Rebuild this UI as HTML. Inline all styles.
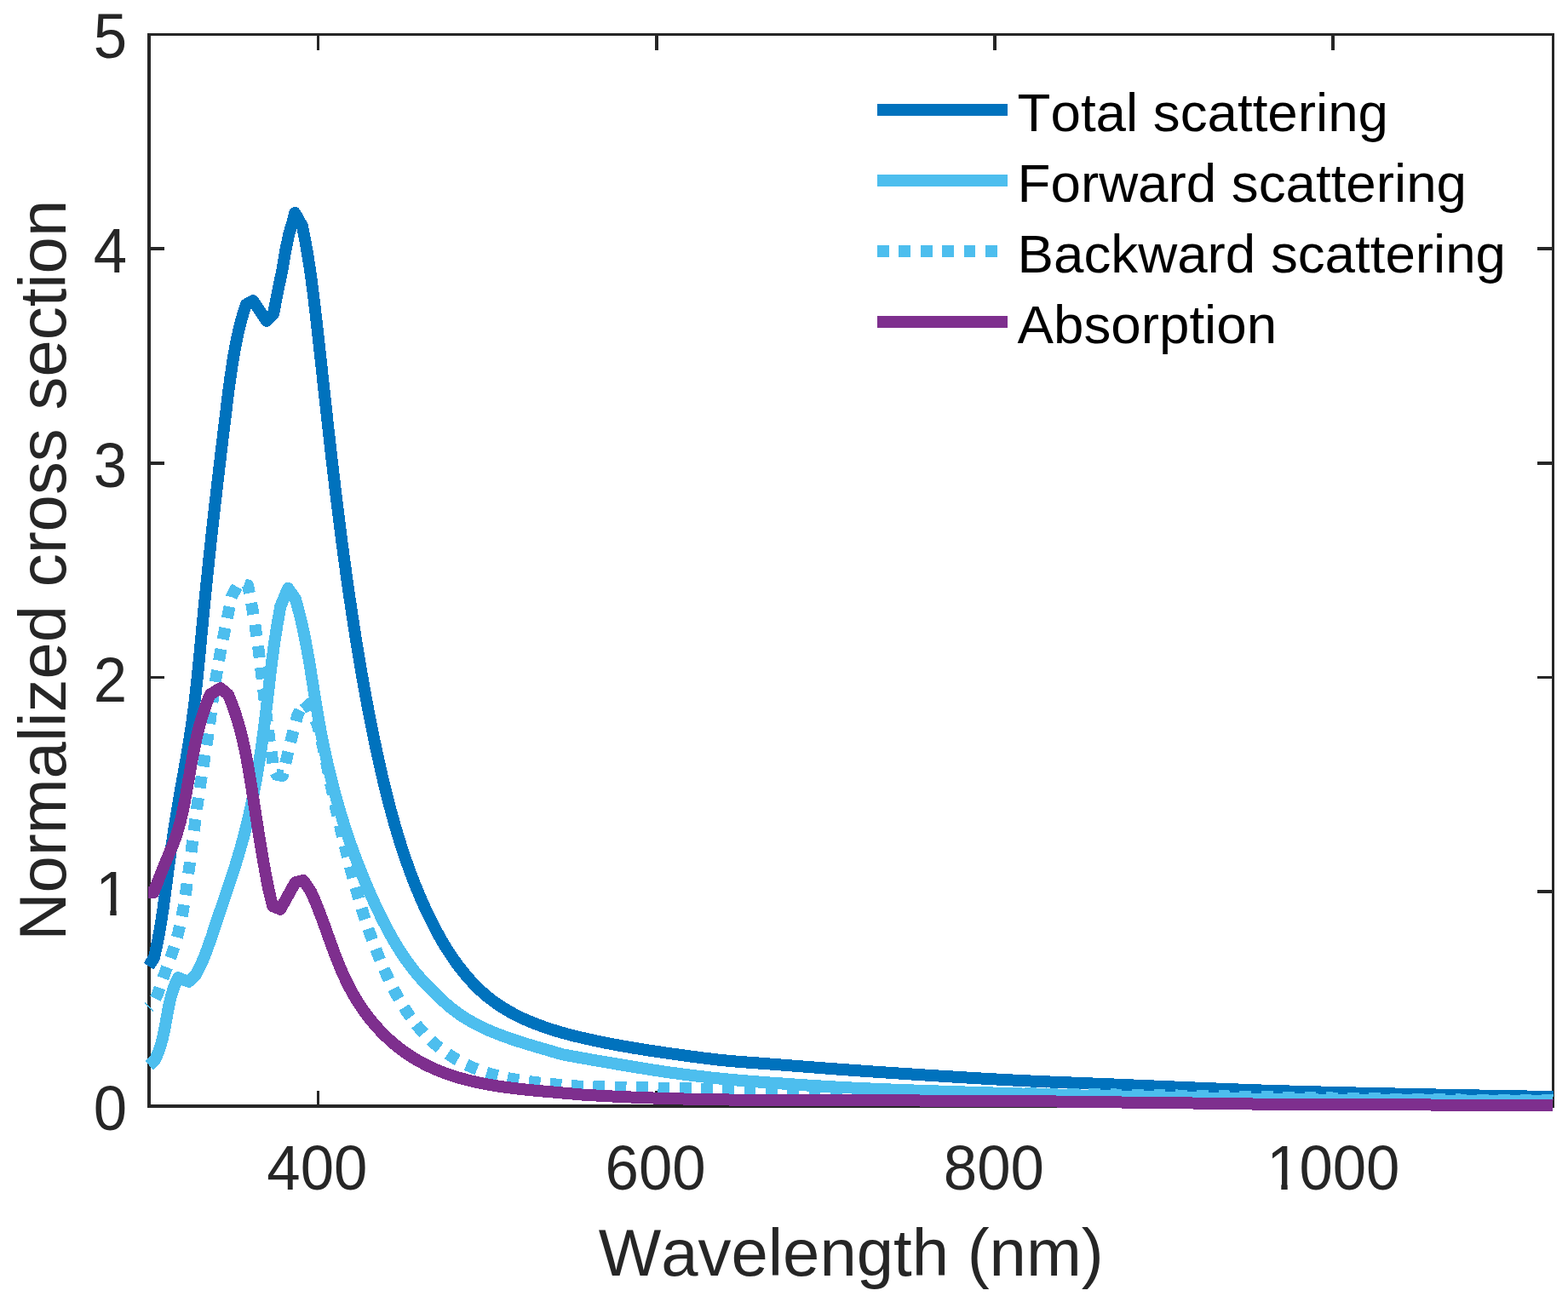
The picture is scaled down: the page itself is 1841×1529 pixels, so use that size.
<!DOCTYPE html>
<html lang="en"><head><meta charset="utf-8"><title>Normalized cross section vs wavelength</title>
<style>
html,body{margin:0;padding:0;background:#fff;}
body{width:1841px;height:1529px;overflow:hidden;}
svg{display:block;}
text{font-family:"Liberation Sans", Arial, Helvetica, sans-serif;font-kerning:none;}
.tk{font-size:70.8px;fill:#262626;}
.lb{font-size:77.9px;fill:#262626;}
.lg{font-size:63.7px;fill:#000;}
.ax{stroke:#262626;fill:none;shape-rendering:crispEdges;}
.cv{fill:none;stroke-width:14;stroke-linejoin:round;stroke-linecap:butt;shape-rendering:crispEdges;}
</style></head><body>
<svg xmlns="http://www.w3.org/2000/svg" width="1841" height="1529" viewBox="0 0 1841 1529">
<rect x="0" y="0" width="1841" height="1529" fill="#fff"/>
<defs>
<clipPath id="c1"><rect x="90" y="1000" width="80" height="68.7"/><rect x="129.3" y="1068.6" width="7.4" height="12"/></clipPath>
<clipPath id="c1000"><rect x="1470" y="1330" width="200" height="60.7"/><rect x="1504.3" y="1390.6" width="7.4" height="12"/><rect x="1526" y="1390.6" width="150" height="12"/></clipPath>
</defs>
<g class="ax">
<rect x="173" y="39" width="4" height="1262" fill="#262626" stroke="none"/>
<rect x="1822" y="39" width="3" height="1262" fill="#262626" stroke="none"/>
<rect x="173" y="39" width="1652" height="3" fill="#262626" stroke="none"/>
<rect x="173" y="1297" width="1652" height="4" fill="#262626" stroke="none"/>
<rect x="372" y="39" width="3" height="20" fill="#262626" stroke="none"/>
<rect x="372" y="1281" width="3" height="20" fill="#262626" stroke="none"/>
<rect x="769" y="39" width="4" height="20" fill="#262626" stroke="none"/>
<rect x="769" y="1281" width="4" height="20" fill="#262626" stroke="none"/>
<rect x="1166" y="39" width="4" height="20" fill="#262626" stroke="none"/>
<rect x="1166" y="1281" width="4" height="20" fill="#262626" stroke="none"/>
<rect x="1563" y="39" width="4" height="20" fill="#262626" stroke="none"/>
<rect x="1563" y="1281" width="4" height="20" fill="#262626" stroke="none"/>
<rect x="173" y="1045" width="20" height="4" fill="#262626" stroke="none"/>
<rect x="1805" y="1045" width="20" height="4" fill="#262626" stroke="none"/>
<rect x="173" y="794" width="20" height="3" fill="#262626" stroke="none"/>
<rect x="1805" y="794" width="20" height="3" fill="#262626" stroke="none"/>
<rect x="173" y="542" width="20" height="4" fill="#262626" stroke="none"/>
<rect x="1805" y="542" width="20" height="4" fill="#262626" stroke="none"/>
<rect x="173" y="290" width="20" height="4" fill="#262626" stroke="none"/>
<rect x="1805" y="290" width="20" height="4" fill="#262626" stroke="none"/>
</g>
<text class="tk" transform="translate(372.4 1397.2) scale(1 1.035)" text-anchor="middle">400</text>
<text class="tk" transform="translate(769.6 1397.2) scale(1 1.035)" text-anchor="middle">600</text>
<text class="tk" transform="translate(1166.9 1397.2) scale(1 1.035)" text-anchor="middle">800</text>
<g clip-path="url(#c1000)"><text class="tk" transform="translate(1564.1 1397.2) scale(1 1.035)" text-anchor="middle"><tspan dx="1.3">1</tspan><tspan dx="-1.3">000</tspan></text></g>
<text class="tk" transform="translate(149.2 1327.1) scale(1 1.035)" text-anchor="end">0</text>
<text class="tk" transform="translate(149.2 823.5) scale(1 1.035)" text-anchor="end">2</text>
<text class="tk" transform="translate(149.2 571.7) scale(1 1.035)" text-anchor="end">3</text>
<text class="tk" transform="translate(149.2 319.9) scale(1 1.035)" text-anchor="end">4</text>
<text class="tk" transform="translate(149.2 68.1) scale(1 1.035)" text-anchor="end">5</text>
<g clip-path="url(#c1)"><text class="tk" transform="translate(151.5 1075.3) scale(1 1.035)" text-anchor="end">1</text></g>
<text class="lb" x="999.2" y="1498" text-anchor="middle">Wavelength (nm)</text>
<text class="lb" transform="translate(76.9 669.8) rotate(-90)" text-anchor="middle">Normalized cross section</text>
<polyline class="cv" stroke="#0072BD" points="174.50,1134.70 180.70,1125.20 181.41,1122.28 182.09,1119.36 182.75,1116.43 183.40,1113.51 184.02,1110.57 184.63,1107.64 185.22,1104.70 185.79,1101.76 186.35,1098.82 186.89,1095.87 187.42,1092.93 187.93,1089.98 188.43,1087.02 188.92,1084.07 189.39,1081.11 189.86,1078.15 190.31,1075.19 190.76,1072.23 191.19,1069.27 191.62,1066.30 192.04,1063.34 192.46,1060.37 192.86,1057.40 193.26,1054.43 193.66,1051.46 194.06,1048.49 194.45,1045.52 194.83,1042.55 195.22,1039.58 195.61,1036.61 195.99,1033.64 196.38,1030.66 196.76,1027.69 197.15,1024.72 197.54,1021.75 197.93,1018.78 198.33,1015.81 198.73,1012.84 199.14,1009.87 199.55,1006.90 199.96,1003.94 200.38,1000.97 200.80,998.00 201.22,995.04 201.65,992.07 202.08,989.11 202.52,986.15 202.96,983.18 203.41,980.22 203.86,977.26 204.31,974.30 204.77,971.34 205.23,968.38 205.70,965.42 206.17,962.46 206.65,959.50 207.13,956.55 207.61,953.59 208.10,950.64 208.60,947.68 209.10,944.73 209.60,941.78 210.11,938.82 210.62,935.87 211.14,932.92 211.66,929.97 212.18,927.02 212.70,924.07 213.23,921.12 213.76,918.18 214.28,915.23 214.81,912.28 215.34,909.33 215.86,906.38 216.39,903.43 216.91,900.48 217.43,897.53 217.95,894.58 218.47,891.63 218.98,888.68 219.49,885.73 219.99,882.78 220.49,879.82 220.98,876.87 221.47,873.92 221.95,870.96 222.42,868.00 222.89,865.04 223.35,862.09 223.80,859.12 224.24,856.16 224.67,853.20 225.10,850.24 225.51,847.27 225.92,844.30 226.32,841.34 226.72,838.37 227.10,835.40 227.48,832.42 227.86,829.45 228.22,826.48 228.58,823.51 228.94,820.53 229.29,817.55 229.63,814.58 229.97,811.60 230.30,808.62 230.63,805.64 230.96,802.66 231.27,799.68 231.59,796.70 231.90,793.72 232.21,790.74 232.51,787.76 232.81,784.77 233.11,781.79 233.41,778.81 233.70,775.82 233.99,772.84 234.28,769.85 234.56,766.87 234.85,763.88 235.13,760.90 235.42,757.91 235.70,754.93 235.98,751.94 236.26,748.96 236.54,745.97 236.82,742.99 237.10,740.00 237.38,737.02 237.66,734.03 237.94,731.05 238.23,728.06 238.51,725.08 238.80,722.10 239.09,719.11 239.37,716.13 239.67,713.15 239.96,710.17 240.25,707.18 240.54,704.20 240.84,701.22 241.14,698.24 241.44,695.26 241.74,692.28 242.04,689.30 242.34,686.32 242.64,683.34 242.95,680.36 243.25,677.38 243.56,674.40 243.87,671.42 244.18,668.44 244.49,665.46 244.80,662.48 245.11,659.51 245.43,656.53 245.74,653.55 246.06,650.57 246.38,647.59 246.70,644.62 247.02,641.64 247.34,638.66 247.66,635.68 247.98,632.71 248.31,629.73 248.63,626.75 248.96,623.78 249.29,620.80 249.61,617.83 249.94,614.85 250.27,611.87 250.61,608.90 250.94,605.92 251.27,602.95 251.61,599.97 251.94,596.99 252.28,594.02 252.61,591.04 252.95,588.07 253.29,585.09 253.63,582.12 253.97,579.14 254.31,576.16 254.66,573.19 255.00,570.21 255.34,567.24 255.69,564.26 256.04,561.29 256.38,558.31 256.73,555.34 257.08,552.36 257.43,549.39 257.78,546.41 258.13,543.43 258.48,540.46 258.83,537.48 259.18,534.51 259.54,531.53 259.89,528.56 260.25,525.58 260.60,522.60 260.96,519.63 261.32,516.65 261.67,513.67 262.03,510.70 262.39,507.72 262.75,504.74 263.11,501.77 263.47,498.79 263.83,495.81 264.19,492.84 264.56,489.86 264.92,486.88 265.28,483.90 265.65,480.92 266.01,477.95 266.38,474.97 266.74,471.99 267.11,469.01 267.48,466.03 267.86,463.06 268.24,460.08 268.62,457.10 269.01,454.13 269.40,451.16 269.80,448.18 270.20,445.21 270.62,442.24 271.04,439.27 271.47,436.31 271.91,433.34 272.36,430.38 272.81,427.42 273.28,424.46 273.76,421.51 274.26,418.56 274.76,415.61 275.28,412.66 275.82,409.72 276.36,406.78 276.93,403.84 277.51,400.91 278.11,397.98 278.72,395.06 279.36,392.14 280.02,389.22 280.70,386.32 281.40,383.41 282.13,380.52 282.89,377.63 283.67,374.74 284.48,371.87 285.32,369.00 286.19,366.14 287.09,363.28 288.03,360.44 289.00,357.60 297.10,353.00 312.80,376.80 321.10,368.20 324.10,352.70 328.00,333.10 331.00,319.30 335.10,295.00 339.50,273.70 343.40,261.90 346.20,250.00 354.80,265.20 355.42,268.14 356.03,271.08 356.63,274.03 357.21,276.97 357.78,279.92 358.34,282.87 358.89,285.82 359.42,288.78 359.94,291.73 360.46,294.69 360.96,297.65 361.45,300.62 361.93,303.58 362.40,306.54 362.86,309.51 363.31,312.48 363.76,315.45 364.19,318.42 364.62,321.39 365.04,324.37 365.45,327.34 365.86,330.32 366.26,333.29 366.65,336.27 367.03,339.25 367.42,342.23 367.79,345.21 368.16,348.19 368.53,351.17 368.89,354.15 369.25,357.14 369.60,360.12 369.95,363.10 370.30,366.09 370.65,369.07 370.99,372.06 371.33,375.04 371.67,378.03 372.01,381.01 372.35,384.00 372.68,386.98 373.02,389.97 373.35,392.95 373.69,395.94 374.02,398.92 374.35,401.91 374.68,404.90 375.01,407.88 375.34,410.87 375.67,413.85 375.99,416.84 376.32,419.82 376.64,422.81 376.97,425.80 377.30,428.78 377.62,431.77 377.95,434.75 378.27,437.74 378.59,440.73 378.92,443.71 379.24,446.70 379.57,449.68 379.89,452.67 380.21,455.66 380.54,458.64 380.86,461.63 381.19,464.61 381.51,467.60 381.84,470.59 382.16,473.57 382.49,476.56 382.82,479.54 383.15,482.53 383.47,485.52 383.80,488.50 384.13,491.49 384.46,494.47 384.79,497.46 385.13,500.44 385.46,503.43 385.79,506.42 386.13,509.40 386.46,512.39 386.80,515.37 387.13,518.36 387.47,521.34 387.81,524.33 388.15,527.31 388.49,530.30 388.83,533.28 389.17,536.27 389.52,539.25 389.86,542.23 390.21,545.22 390.56,548.20 390.90,551.19 391.25,554.17 391.60,557.15 391.95,560.14 392.31,563.12 392.66,566.11 393.02,569.09 393.37,572.07 393.73,575.05 394.09,578.04 394.45,581.02 394.81,584.00 395.17,586.98 395.54,589.97 395.91,592.95 396.27,595.93 396.64,598.91 397.01,601.89 397.38,604.87 397.76,607.85 398.13,610.83 398.51,613.81 398.89,616.79 399.27,619.77 399.65,622.75 400.03,625.73 400.42,628.71 400.80,631.69 401.19,634.67 401.58,637.65 401.97,640.63 402.37,643.60 402.76,646.58 403.16,649.56 403.56,652.54 403.96,655.51 404.36,658.49 404.77,661.47 405.17,664.44 405.58,667.42 405.99,670.39 406.40,673.37 406.82,676.34 407.24,679.32 407.66,682.29 408.08,685.27 408.50,688.24 408.92,691.21 409.35,694.18 409.78,697.16 410.21,700.13 410.65,703.10 411.08,706.07 411.52,709.04 411.96,712.01 412.41,714.98 412.85,717.95 413.30,720.92 413.75,723.89 414.20,726.86 414.66,729.83 415.12,732.80 415.58,735.77 416.04,738.73 416.50,741.70 416.97,744.67 417.44,747.63 417.91,750.60 418.39,753.56 418.87,756.53 419.35,759.49 419.83,762.46 420.32,765.42 420.81,768.38 421.30,771.34 421.79,774.31 422.29,777.27 422.79,780.23 423.29,783.19 423.80,786.15 424.31,789.11 424.82,792.07 425.33,795.03 425.85,797.98 426.37,800.94 426.90,803.90 427.43,806.86 427.96,809.81 428.49,812.77 429.03,815.72 429.58,818.68 430.12,821.63 430.67,824.58 431.22,827.53 431.78,830.48 432.34,833.44 432.91,836.39 433.47,839.34 434.05,842.28 434.62,845.23 435.20,848.18 435.79,851.13 436.38,854.07 436.97,857.02 437.57,859.96 438.17,862.91 438.77,865.85 439.38,868.79 440.00,871.73 440.62,874.67 441.24,877.61 441.87,880.55 442.50,883.49 443.14,886.43 443.78,889.37 444.43,892.30 445.08,895.24 445.74,898.17 446.40,901.11 447.06,904.04 447.74,906.97 448.41,909.90 449.10,912.83 449.79,915.75 450.48,918.68 451.18,921.60 451.89,924.53 452.60,927.45 453.33,930.37 454.05,933.28 454.79,936.20 455.53,939.11 456.28,942.02 457.04,944.93 457.80,947.84 458.58,950.74 459.36,953.64 460.14,956.54 460.94,959.43 461.75,962.33 462.56,965.22 463.39,968.10 464.22,970.98 465.06,973.86 465.91,976.74 466.77,979.61 467.64,982.48 468.52,985.35 469.42,988.21 470.32,991.07 471.23,993.93 472.15,996.78 473.08,999.63 474.03,1002.47 474.98,1005.31 475.95,1008.15 476.93,1010.98 477.92,1013.81 478.92,1016.63 479.94,1019.45 480.96,1022.27 482.00,1025.08 483.06,1027.89 484.12,1030.69 485.20,1033.49 486.29,1036.28 487.40,1039.07 488.52,1041.85 489.65,1044.63 490.80,1047.41 491.96,1050.18 493.13,1052.94 494.32,1055.70 495.53,1058.46 496.75,1061.21 497.98,1063.95 499.23,1066.69 500.50,1069.43 501.78,1072.15 503.08,1074.88 504.40,1077.59 505.73,1080.30 507.08,1083.01 508.44,1085.70 509.83,1088.39 511.23,1091.06 512.66,1093.73 514.10,1096.38 515.57,1099.02 517.05,1101.65 518.56,1104.27 520.08,1106.88 521.63,1109.47 523.21,1112.04 524.80,1114.61 526.42,1117.15 528.06,1119.68 529.73,1122.19 531.42,1124.68 533.14,1127.16 534.88,1129.61 536.65,1132.05 538.45,1134.46 540.27,1136.86 542.13,1139.23 544.01,1141.58 545.91,1143.90 547.85,1146.20 549.81,1148.47 551.81,1150.72 553.83,1152.93 555.89,1155.12 557.97,1157.27 560.09,1159.39 562.23,1161.47 564.41,1163.52 566.62,1165.53 568.86,1167.51 571.14,1169.44 573.44,1171.33 575.78,1173.19 578.16,1175.00 580.56,1176.76 583.00,1178.49 585.46,1180.18 587.96,1181.82 590.48,1183.42 593.03,1184.99 595.61,1186.52 598.21,1188.01 600.84,1189.46 603.49,1190.88 606.16,1192.26 608.85,1193.61 611.57,1194.92 614.30,1196.20 617.05,1197.44 619.82,1198.66 622.60,1199.84 625.39,1200.99 628.21,1202.11 631.03,1203.20 633.87,1204.26 636.71,1205.30 639.57,1206.30 642.43,1207.29 645.31,1208.24 648.19,1209.17 651.07,1210.07 653.96,1210.95 656.85,1211.81 659.75,1212.64 662.64,1213.45 665.54,1214.24 668.44,1215.01 671.33,1215.76 674.23,1216.49 677.12,1217.21 680.00,1217.90 688.00,1219.73 695.99,1221.51 703.99,1223.22 711.99,1224.87 719.98,1226.43 727.98,1227.90 735.98,1229.31 743.97,1230.67 751.97,1231.97 759.97,1233.24 767.96,1234.46 775.96,1235.64 783.95,1236.79 791.95,1237.92 799.95,1239.03 807.94,1240.13 815.94,1241.21 823.94,1242.25 831.93,1243.25 839.93,1244.19 847.93,1245.05 855.92,1245.84 863.92,1246.54 871.92,1247.17 879.91,1247.75 887.91,1248.32 895.91,1248.89 903.90,1249.50 911.90,1250.11 919.90,1250.73 927.89,1251.34 935.89,1251.96 943.88,1252.58 951.88,1253.19 959.88,1253.80 967.87,1254.41 975.87,1255.01 983.87,1255.60 991.86,1256.18 999.86,1256.75 1007.86,1257.31 1015.85,1257.87 1023.85,1258.42 1031.85,1258.97 1039.84,1259.51 1047.84,1260.04 1055.84,1260.57 1063.83,1261.10 1071.83,1261.61 1079.83,1262.12 1087.82,1262.62 1095.82,1263.12 1103.81,1263.61 1111.81,1264.10 1119.81,1264.59 1127.80,1265.07 1135.80,1265.55 1143.80,1266.02 1151.79,1266.49 1159.79,1266.94 1167.79,1267.39 1175.78,1267.82 1183.78,1268.24 1191.78,1268.65 1199.77,1269.04 1207.77,1269.41 1215.77,1269.77 1223.76,1270.12 1231.76,1270.46 1239.76,1270.78 1247.75,1271.10 1255.75,1271.42 1263.74,1271.74 1271.74,1272.05 1279.74,1272.37 1287.73,1272.69 1295.73,1273.01 1303.73,1273.35 1311.72,1273.69 1319.72,1274.03 1327.72,1274.37 1335.71,1274.71 1343.71,1275.05 1351.71,1275.39 1359.70,1275.73 1367.70,1276.07 1375.70,1276.40 1383.69,1276.73 1391.69,1277.05 1399.69,1277.37 1407.68,1277.69 1415.68,1278.01 1423.67,1278.33 1431.67,1278.65 1439.67,1278.96 1447.66,1279.28 1455.66,1279.58 1463.66,1279.88 1471.65,1280.17 1479.65,1280.45 1487.65,1280.72 1495.64,1280.97 1503.64,1281.21 1511.64,1281.44 1519.63,1281.67 1527.63,1281.89 1535.63,1282.10 1543.62,1282.31 1551.62,1282.52 1559.62,1282.72 1567.61,1282.92 1575.61,1283.11 1583.60,1283.30 1591.60,1283.49 1599.60,1283.67 1607.59,1283.86 1615.59,1284.03 1623.59,1284.21 1631.58,1284.38 1639.58,1284.55 1647.58,1284.72 1655.57,1284.89 1663.57,1285.06 1671.57,1285.22 1679.56,1285.38 1687.56,1285.55 1695.56,1285.71 1703.55,1285.87 1711.55,1286.03 1719.55,1286.18 1727.54,1286.33 1735.54,1286.49 1743.53,1286.63 1751.53,1286.78 1759.53,1286.93 1767.52,1287.07 1775.52,1287.21 1783.52,1287.35 1791.51,1287.48 1799.51,1287.61 1807.51,1287.75 1815.50,1287.87 1823.50,1288.00"/>
<polyline class="cv" stroke="#4DBEEE" points="175.10,1251.10 181.30,1245.60 182.67,1242.90 183.94,1240.17 185.12,1237.41 186.22,1234.63 187.23,1231.83 188.17,1229.00 189.04,1226.15 189.84,1223.29 190.60,1220.41 191.30,1217.51 191.96,1214.60 192.58,1211.69 193.17,1208.76 193.73,1205.82 194.27,1202.88 194.80,1199.94 195.33,1196.99 195.85,1194.04 196.38,1191.10 196.92,1188.15 197.48,1185.22 198.06,1182.29 198.67,1179.37 199.32,1176.45 200.00,1173.55 200.74,1170.67 201.53,1167.80 202.38,1164.95 203.30,1162.11 204.29,1159.30 205.36,1156.51 206.51,1153.75 207.76,1151.01 209.10,1148.30 221.60,1152.80 229.00,1146.00 230.48,1143.38 231.90,1140.74 233.28,1138.08 234.60,1135.40 235.88,1132.69 237.11,1129.97 238.31,1127.23 239.47,1124.47 240.59,1121.70 241.68,1118.91 242.75,1116.11 243.79,1113.30 244.80,1110.48 245.80,1107.65 246.78,1104.81 247.74,1101.97 248.70,1099.12 249.65,1096.26 250.59,1093.41 251.53,1090.55 252.47,1087.69 253.41,1084.84 254.36,1081.98 255.32,1079.13 256.27,1076.28 257.23,1073.43 258.20,1070.58 259.16,1067.73 260.13,1064.89 261.10,1062.04 262.07,1059.19 263.03,1056.35 264.00,1053.50 264.97,1050.65 265.93,1047.81 266.89,1044.96 267.85,1042.11 268.80,1039.26 269.75,1036.41 270.70,1033.56 271.64,1030.71 272.57,1027.86 273.50,1025.00 274.42,1022.14 275.34,1019.28 276.24,1016.42 277.14,1013.56 278.03,1010.69 278.90,1007.82 279.77,1004.95 280.62,1002.07 281.47,999.19 282.30,996.31 283.12,993.42 283.93,990.53 284.72,987.64 285.50,984.74 286.28,981.84 287.03,978.94 287.78,976.03 288.52,973.12 289.24,970.20 289.95,967.29 290.65,964.37 291.34,961.45 292.02,958.52 292.69,955.59 293.34,952.66 293.99,949.73 294.63,946.80 295.25,943.86 295.87,940.92 296.48,937.98 297.07,935.03 297.66,932.08 298.23,929.13 298.80,926.18 299.36,923.23 299.91,920.27 300.45,917.32 300.98,914.36 301.50,911.40 302.02,908.43 302.52,905.47 303.02,902.51 303.51,899.54 303.99,896.57 304.46,893.60 304.92,890.63 305.38,887.66 305.83,884.69 306.28,881.71 306.71,878.74 307.14,875.76 307.56,872.78 307.98,869.81 308.38,866.83 308.79,863.85 309.18,860.87 309.57,857.89 309.95,854.91 310.33,851.93 310.70,848.95 311.07,845.97 311.43,842.99 311.79,840.01 312.15,837.02 312.50,834.04 312.85,831.06 313.20,828.08 313.55,825.10 313.89,822.11 314.24,819.13 314.58,816.15 314.93,813.17 315.27,810.18 315.61,807.20 315.96,804.22 316.31,801.24 316.66,798.26 317.01,795.28 317.36,792.30 317.72,789.32 318.08,786.34 318.45,783.36 318.82,780.38 319.19,777.41 319.57,774.43 319.96,771.45 320.35,768.48 320.75,765.50 321.15,762.53 321.57,759.55 321.99,756.58 322.42,753.61 322.85,750.64 323.30,747.67 323.76,744.70 324.22,741.73 324.70,738.77 325.19,735.80 325.68,732.84 326.19,729.87 326.70,726.91 327.21,723.95 327.73,720.99 328.26,718.02 328.78,715.06 329.30,712.10 338.20,690.90 346.70,703.00 347.55,705.89 348.38,708.79 349.19,711.68 349.98,714.59 350.75,717.50 351.50,720.41 352.23,723.32 352.95,726.24 353.64,729.16 354.32,732.09 354.98,735.02 355.63,737.95 356.26,740.88 356.88,743.82 357.48,746.76 358.07,749.71 358.65,752.65 359.22,755.60 359.78,758.55 360.32,761.50 360.86,764.46 361.39,767.42 361.90,770.37 362.42,773.33 362.92,776.30 363.42,779.26 363.91,782.22 364.39,785.19 364.88,788.15 365.35,791.12 365.83,794.09 366.30,797.06 366.77,800.02 367.24,802.99 367.70,805.96 368.17,808.93 368.64,811.90 369.11,814.87 369.58,817.84 370.05,820.80 370.53,823.77 371.01,826.74 371.50,829.70 371.99,832.67 372.48,835.63 372.99,838.59 373.50,841.55 374.01,844.51 374.54,847.47 375.07,850.43 375.61,853.38 376.16,856.34 376.72,859.29 377.28,862.24 377.86,865.18 378.44,868.13 379.03,871.07 379.63,874.02 380.24,876.96 380.85,879.90 381.48,882.83 382.11,885.77 382.75,888.70 383.40,891.63 384.06,894.56 384.73,897.48 385.41,900.41 386.10,903.33 386.79,906.25 387.50,909.17 388.21,912.08 388.93,915.00 389.67,917.91 390.41,920.82 391.16,923.72 391.92,926.62 392.69,929.53 393.48,932.42 394.27,935.32 395.07,938.21 395.88,941.10 396.70,943.99 397.53,946.88 398.37,949.76 399.22,952.64 400.08,955.52 400.95,958.39 401.83,961.27 402.72,964.13 403.62,967.00 404.53,969.86 405.45,972.72 406.38,975.58 407.32,978.43 408.27,981.28 409.23,984.13 410.21,986.97 411.19,989.81 412.18,992.64 413.19,995.48 414.20,998.31 415.23,1001.13 416.26,1003.95 417.31,1006.77 418.36,1009.58 419.43,1012.39 420.51,1015.20 421.60,1018.00 422.70,1020.79 423.81,1023.59 424.93,1026.38 426.06,1029.16 427.20,1031.94 428.35,1034.72 429.52,1037.49 430.69,1040.25 431.88,1043.02 433.07,1045.77 434.28,1048.53 435.50,1051.28 436.73,1054.02 437.97,1056.76 439.22,1059.49 440.49,1062.22 441.76,1064.94 443.05,1067.66 444.34,1070.38 445.65,1073.08 446.97,1075.79 448.30,1078.48 449.65,1081.17 451.01,1083.85 452.38,1086.53 453.78,1089.19 455.18,1091.84 456.61,1094.49 458.05,1097.12 459.51,1099.74 460.99,1102.35 462.49,1104.95 464.01,1107.53 465.55,1110.10 467.12,1112.65 468.70,1115.19 470.31,1117.72 471.95,1120.22 473.61,1122.71 475.29,1125.18 477.01,1127.64 478.74,1130.07 480.51,1132.48 482.31,1134.88 484.13,1137.25 485.99,1139.60 487.88,1141.93 489.80,1144.23 491.75,1146.51 493.73,1148.77 495.75,1151.00 497.79,1153.21 499.87,1155.40 501.97,1157.58 504.09,1159.73 506.22,1161.88 508.37,1164.01 510.53,1166.14 512.70,1168.26 514.87,1170.37 517.06,1172.48 519.25,1174.56 521.46,1176.63 523.70,1178.66 525.96,1180.65 528.25,1182.59 530.57,1184.48 532.93,1186.32 535.32,1188.12 537.74,1189.87 540.19,1191.57 542.66,1193.23 545.17,1194.84 547.70,1196.41 550.25,1197.95 552.83,1199.44 555.44,1200.89 558.06,1202.30 560.71,1203.68 563.38,1205.03 566.07,1206.34 568.78,1207.62 571.51,1208.86 574.25,1210.08 577.02,1211.26 579.79,1212.42 582.58,1213.55 585.39,1214.66 588.20,1215.74 591.03,1216.79 593.87,1217.83 596.72,1218.84 599.58,1219.84 602.45,1220.81 605.32,1221.77 608.20,1222.71 611.08,1223.64 613.97,1224.55 616.86,1225.45 619.76,1226.34 622.65,1227.21 625.55,1228.08 628.44,1228.94 631.34,1229.80 634.23,1230.64 637.12,1231.48 640.00,1232.32 642.88,1233.16 645.76,1234.00 648.62,1234.83 651.48,1235.67 654.33,1236.51 657.17,1237.35 660.00,1238.20 668.02,1239.68 676.05,1241.14 684.07,1242.59 692.10,1244.02 700.12,1245.42 708.14,1246.81 716.17,1248.18 724.19,1249.53 732.22,1250.87 740.24,1252.22 748.27,1253.55 756.29,1254.87 764.31,1256.16 772.34,1257.40 780.36,1258.60 788.39,1259.73 796.41,1260.80 804.43,1261.84 812.46,1262.85 820.48,1263.83 828.51,1264.77 836.53,1265.67 844.56,1266.52 852.58,1267.32 860.60,1268.07 868.63,1268.77 876.65,1269.44 884.68,1270.06 892.70,1270.67 900.72,1271.25 908.75,1271.83 916.77,1272.40 924.80,1272.96 932.82,1273.51 940.84,1274.05 948.87,1274.58 956.89,1275.09 964.92,1275.59 972.94,1276.06 980.97,1276.52 988.99,1276.95 997.01,1277.36 1005.04,1277.75 1013.06,1278.12 1021.09,1278.47 1029.11,1278.82 1037.13,1279.15 1045.16,1279.47 1053.18,1279.78 1061.21,1280.08 1069.23,1280.37 1077.26,1280.66 1085.28,1280.94 1093.30,1281.22 1101.33,1281.50 1109.35,1281.77 1117.38,1282.03 1125.40,1282.29 1133.42,1282.54 1141.45,1282.78 1149.47,1283.02 1157.50,1283.26 1165.52,1283.50 1173.54,1283.73 1181.57,1283.96 1189.59,1284.20 1197.62,1284.43 1205.64,1284.67 1213.67,1284.90 1221.69,1285.14 1229.71,1285.38 1237.74,1285.61 1245.76,1285.84 1253.79,1286.07 1261.81,1286.30 1269.83,1286.52 1277.86,1286.74 1285.88,1286.95 1293.91,1287.15 1301.93,1287.35 1309.96,1287.54 1317.98,1287.72 1326.00,1287.90 1334.03,1288.08 1342.05,1288.25 1350.08,1288.42 1358.10,1288.59 1366.12,1288.75 1374.15,1288.91 1382.17,1289.07 1390.20,1289.22 1398.22,1289.37 1406.24,1289.51 1414.27,1289.66 1422.29,1289.80 1430.32,1289.95 1438.34,1290.09 1446.37,1290.22 1454.39,1290.36 1462.41,1290.48 1470.44,1290.61 1478.46,1290.72 1486.49,1290.83 1494.51,1290.93 1502.53,1291.03 1510.56,1291.12 1518.58,1291.21 1526.61,1291.29 1534.63,1291.38 1542.66,1291.46 1550.68,1291.54 1558.70,1291.61 1566.73,1291.69 1574.75,1291.76 1582.78,1291.83 1590.80,1291.89 1598.82,1291.96 1606.85,1292.02 1614.87,1292.08 1622.90,1292.13 1630.92,1292.19 1638.94,1292.24 1646.97,1292.28 1654.99,1292.33 1663.02,1292.37 1671.04,1292.42 1679.07,1292.46 1687.09,1292.50 1695.11,1292.54 1703.14,1292.58 1711.16,1292.62 1719.19,1292.66 1727.21,1292.70 1735.23,1292.73 1743.26,1292.76 1751.28,1292.80 1759.31,1292.83 1767.33,1292.86 1775.36,1292.88 1783.38,1292.91 1791.40,1292.93 1799.43,1292.95 1807.45,1292.97 1815.48,1292.99 1823.50,1293.00"/>
<polyline class="cv" stroke="#4DBEEE" stroke-dasharray="13.7 11.7" stroke-dashoffset="12.20" points="174.60,1183.00 179.70,1177.70 185.50,1166.30 186.37,1163.43 187.28,1160.58 188.22,1157.73 189.18,1154.89 190.17,1152.05 191.17,1149.22 192.19,1146.40 193.23,1143.58 194.27,1140.76 195.31,1137.94 196.36,1135.13 197.40,1132.31 198.44,1129.49 199.47,1126.67 200.48,1123.84 201.47,1121.01 202.45,1118.18 203.40,1115.33 204.33,1112.48 205.23,1109.62 206.10,1106.76 206.95,1103.89 207.76,1101.01 208.55,1098.12 209.31,1095.22 210.03,1092.31 210.73,1089.40 211.40,1086.48 212.04,1083.55 212.65,1080.62 213.24,1077.68 213.81,1074.74 214.36,1071.78 214.89,1068.83 215.40,1065.87 215.89,1062.91 216.37,1059.94 216.83,1056.97 216.86,1056.76"/>
<polyline class="cv" stroke="#4DBEEE" stroke-dasharray="13.7 11.7" stroke-dashoffset="19.74" points="216.86,1056.76 217.28,1054.00 217.73,1051.03 218.16,1048.05 218.59,1045.08 219.01,1042.10 219.42,1039.13 219.84,1036.15 220.24,1033.17 220.64,1030.20 221.04,1027.22 221.44,1024.24 221.83,1021.27 222.22,1018.29 222.61,1015.31 222.99,1012.34 223.37,1009.36 223.75,1006.38 224.13,1003.40 224.51,1000.43 224.89,997.45 225.27,994.47 225.64,991.50 226.02,988.52 226.40,985.54 226.78,982.57 227.16,979.59 227.54,976.62 227.93,973.64 228.31,970.67 228.70,967.69 229.09,964.72 229.49,961.75 229.89,958.77 230.29,955.80 230.70,952.83 231.11,949.86 231.52,946.88 231.94,943.91 232.37,940.94 232.80,937.98 233.24,935.01 233.68,932.04 234.12,929.07 234.57,926.10 235.02,923.14 235.47,920.17 235.93,917.20 236.39,914.24 236.85,911.27 237.31,908.31 237.77,905.34 238.23,902.38 238.70,899.41 239.16,896.45 239.62,893.48 240.09,890.52 240.55,887.55 241.01,884.59 241.46,881.62 241.92,878.66 242.37,875.69 242.82,872.72 243.27,869.76 243.71,866.79 244.15,863.83 244.58,860.86 245.01,857.89 245.43,854.92 245.84,851.95 246.25,848.98 246.65,846.01 247.03,843.04 247.42,840.07 247.79,837.09 248.16,834.12 248.54,831.14 248.91,828.17 249.29,825.19 249.68,822.22 250.08,819.25 250.48,816.28 250.90,813.31 251.34,810.35 251.78,807.38 252.08,805.41"/>
<polyline class="cv" stroke="#4DBEEE" stroke-dasharray="13.7 11.7" stroke-dashoffset="20.73" points="252.08,805.41 252.23,804.42 252.69,801.46 253.16,798.50 253.64,795.54 254.13,792.58 254.62,789.62 255.13,786.67 255.64,783.71 256.16,780.76 256.68,777.81 257.22,774.85 257.76,771.90 258.30,768.95 258.86,766.01 259.41,763.06 259.98,760.11 260.54,757.16 261.11,754.22 261.69,751.27 262.27,748.33 262.85,745.38 263.44,742.44 264.03,739.50 264.62,736.55 265.21,733.61 265.81,730.67 266.40,727.73 267.00,724.78 267.60,721.84 268.20,718.90 271.80,700.80 280.80,684.20 291.00,687.50 291.62,690.42 292.23,693.35 292.82,696.27 293.40,699.20 293.97,702.13 294.53,705.06 295.07,708.00 295.61,710.93 296.13,713.87 296.64,716.81 297.14,719.75 297.64,722.69 298.12,725.64 298.40,727.37"/>
<polyline class="cv" stroke="#4DBEEE" stroke-dasharray="13.7 11.7" stroke-dashoffset="19.13" points="298.40,727.37 298.59,728.58 299.05,731.53 299.51,734.48 299.96,737.43 300.40,740.38 300.83,743.33 301.25,746.29 301.67,749.24 302.08,752.20 302.48,755.15 302.88,758.11 303.27,761.07 303.66,764.03 304.04,766.99 304.41,769.95 304.79,772.92 305.15,775.88 305.52,778.84 305.88,781.81 306.24,784.77 306.59,787.74 306.94,790.70 307.29,793.67 307.64,796.64 307.99,799.60 308.34,802.57 308.68,805.54 309.03,808.50 309.37,811.47 309.71,814.44 310.06,817.40 310.41,820.37 310.75,823.34 311.10,826.30 311.45,829.27 311.80,832.24 312.16,835.20 312.52,838.17 312.88,841.13 313.24,844.10 313.61,847.06 313.98,850.02 314.36,852.98 314.46,853.76"/>
<polyline class="cv" stroke="#4DBEEE" stroke-dasharray="13.7 11.7" stroke-dashoffset="21.54" points="314.46,853.76 314.74,855.94 315.12,858.91 315.52,861.86 315.91,864.82 316.32,867.78 316.73,870.74 317.14,873.69 317.57,876.65 318.00,879.60 318.44,882.55 318.88,885.50 319.34,888.45 319.80,891.40 320.60,902.00 324.50,909.80 332.00,911.00 336.70,889.90 339.79,877.24"/>
<polyline class="cv" stroke="#4DBEEE" stroke-dasharray="13.7 11.7" stroke-dashoffset="19.55" points="339.79,877.24 342.80,864.90 349.10,840.60 354.55,828.80"/>
<polyline class="cv" stroke="#4DBEEE" stroke-dasharray="13.7 11.7" stroke-dashoffset="19.52" points="354.55,828.80 357.00,823.50 363.00,830.30 367.49,840.06"/>
<polyline class="cv" stroke="#4DBEEE" stroke-dasharray="13.7 11.7" stroke-dashoffset="19.32" points="367.49,840.06 372.90,851.80 373.70,854.69 374.48,857.59 375.23,860.49 375.97,863.40 376.69,866.31 377.40,869.22 378.09,872.14 378.76,875.06 379.42,877.98 380.07,880.91 380.71,883.84 381.34,886.77 381.96,889.70 382.57,892.63 383.18,895.57 383.78,898.51 384.38,901.45 384.97,904.39 385.56,907.33 386.16,910.27 386.75,913.21 387.34,916.15 387.94,919.09 388.54,922.03 389.14,924.97 389.75,927.91 390.37,930.85 391.00,933.78 391.62,936.72 392.26,939.65 392.90,942.59 393.54,945.52 394.19,948.45 394.85,951.38 395.51,954.31 396.18,957.24 396.85,960.17 397.52,963.10 398.20,966.02 398.89,968.95 399.57,971.87 400.27,974.79 400.96,977.72 401.67,980.64 402.37,983.56 403.08,986.47 403.47,988.09"/>
<polyline class="cv" stroke="#4DBEEE" stroke-dasharray="13.7 11.7" stroke-dashoffset="20.28" points="403.47,988.09 403.79,989.39 404.51,992.31 405.23,995.22 405.95,998.14 406.68,1001.05 407.41,1003.96 408.14,1006.88 408.88,1009.78 409.62,1012.69 410.37,1015.60 411.12,1018.51 411.88,1021.41 412.64,1024.31 413.41,1027.21 414.18,1030.11 414.96,1033.01 415.75,1035.90 416.54,1038.79 417.35,1041.68 418.15,1044.57 418.97,1047.45 419.79,1050.33 420.63,1053.21 421.47,1056.09 422.32,1058.96 423.18,1061.83 424.04,1064.70 424.92,1067.57 425.81,1070.43 426.71,1073.28 427.62,1076.14 428.54,1078.99 429.47,1081.84 430.41,1084.68 431.36,1087.52 432.33,1090.36 433.30,1093.19 434.29,1096.02 435.30,1098.84 436.31,1101.66 437.34,1104.48 438.38,1107.29 439.44,1110.09 440.51,1112.90 441.59,1115.69 442.69,1118.48 443.81,1121.27 444.94,1124.05 446.08,1126.83 447.24,1129.60 448.42,1132.37 449.61,1135.13 450.82,1137.89 452.05,1140.64 453.30,1143.38 454.56,1146.12 455.84,1148.86 457.14,1151.58 458.46,1154.30 459.80,1157.00 461.16,1159.70 462.54,1162.38 463.95,1165.05 465.38,1167.71 466.84,1170.35 468.32,1172.97 469.83,1175.58 471.36,1178.17 472.93,1180.74 474.52,1183.29 476.15,1185.82 477.80,1188.32 479.49,1190.80 481.21,1193.26 482.96,1195.69 484.75,1198.10 485.53,1199.12"/>
<polyline class="cv" stroke="#4DBEEE" stroke-dasharray="13.7 11.7" stroke-dashoffset="20.40" points="485.53,1199.12 486.57,1200.47 488.43,1202.82 490.32,1205.14 492.25,1207.42 494.22,1209.68 496.23,1211.90 498.28,1214.08 500.36,1216.24 502.48,1218.35 504.64,1220.44 506.83,1222.48 509.06,1224.49 511.32,1226.46 513.61,1228.39 515.94,1230.28 518.29,1232.13 520.68,1233.94 523.10,1235.70 525.55,1237.43 528.03,1239.11 530.53,1240.75 533.07,1242.34 535.63,1243.89 538.21,1245.39 540.83,1246.84 543.46,1248.25 546.13,1249.60 548.81,1250.91 551.52,1252.17 554.25,1253.38 557.00,1254.54 559.78,1255.65 562.57,1256.71 565.38,1257.73 568.21,1258.70 571.06,1259.62 573.92,1260.51 576.80,1261.35 579.69,1262.16 582.60,1262.93 585.52,1263.66 588.45,1264.35 591.39,1265.02 594.34,1265.65 597.30,1266.25 600.27,1266.82 603.25,1267.36 606.23,1267.88 609.22,1268.38 612.21,1268.85 615.21,1269.29 618.20,1269.72 621.20,1270.13 624.21,1270.52 627.21,1270.89 630.21,1271.25 633.21,1271.60 636.21,1271.93 639.20,1272.25 640.28,1272.36"/>
<polyline class="cv" stroke="#4DBEEE" stroke-dasharray="13.7 11.7" stroke-dashoffset="19.97" points="640.28,1272.36 642.20,1272.55 645.19,1272.85 648.18,1273.13 651.17,1273.41 654.15,1273.67 657.13,1273.92 660.11,1274.17 663.09,1274.41 666.06,1274.64 669.03,1274.86 671.99,1275.08 674.95,1275.29 677.90,1275.50 685.91,1275.70 693.92,1275.90 701.93,1276.10 709.94,1276.29 717.96,1276.48 725.97,1276.67 733.98,1276.85 741.99,1277.04 750.00,1277.21 758.01,1277.39 766.02,1277.56 774.03,1277.73 782.05,1277.89 790.06,1278.06 798.07,1278.22 806.08,1278.38 814.09,1278.54 822.10,1278.69 830.11,1278.84 838.12,1278.99 842.88,1279.08"/>
<polyline class="cv" stroke="#4DBEEE" stroke-dasharray="13.7 11.7" stroke-dashoffset="20.02" points="842.88,1279.08 846.13,1279.14 854.15,1279.28 862.16,1279.43 870.17,1279.57 878.18,1279.70 886.19,1279.84 894.20,1279.97 902.21,1280.10 910.22,1280.23 918.24,1280.35 926.25,1280.48 934.26,1280.61 942.27,1280.73 950.28,1280.85 958.29,1280.97 966.30,1281.10 974.31,1281.22 982.33,1281.34 990.34,1281.46 998.35,1281.58 1006.36,1281.70 1014.37,1281.81 1020.19,1281.90"/>
<polyline class="cv" stroke="#4DBEEE" stroke-dasharray="13.7 11.7" stroke-dashoffset="20.63" points="1020.19,1281.90 1022.38,1281.93 1030.39,1282.05 1038.40,1282.16 1046.41,1282.28 1054.43,1282.39 1062.44,1282.50 1070.45,1282.61 1078.46,1282.72 1086.47,1282.82 1094.48,1282.93 1102.49,1283.03 1110.50,1283.13 1118.52,1283.23 1126.53,1283.33 1134.54,1283.42 1142.55,1283.51 1150.56,1283.60 1158.57,1283.69 1166.58,1283.78 1174.59,1283.87 1182.60,1283.97 1190.62,1284.06 1198.63,1284.15 1206.64,1284.24 1214.65,1284.34 1222.66,1284.43 1230.67,1284.53 1238.68,1284.62 1246.69,1284.72 1247.69,1284.73"/>
<polyline class="cv" stroke="#4DBEEE" stroke-dasharray="13.7 11.7" stroke-dashoffset="20.23" points="1247.69,1284.73 1254.71,1284.82 1262.72,1284.91 1270.73,1285.01 1278.74,1285.10 1286.75,1285.20 1294.76,1285.30 1302.77,1285.40 1310.78,1285.50 1318.80,1285.60 1326.81,1285.71 1334.82,1285.81 1342.83,1285.92 1350.84,1286.03 1358.85,1286.14 1366.86,1286.26 1374.87,1286.38 1382.88,1286.50 1390.90,1286.63 1398.91,1286.76 1406.92,1286.89 1414.93,1287.03 1422.94,1287.17 1430.95,1287.31 1438.96,1287.44 1446.97,1287.58 1450.19,1287.64"/>
<polyline class="cv" stroke="#4DBEEE" stroke-dasharray="13.7 11.7" stroke-dashoffset="20.23" points="1450.19,1287.64 1454.99,1287.72 1463.00,1287.86 1471.01,1287.99 1479.02,1288.12 1487.03,1288.25 1495.04,1288.38 1503.05,1288.51 1511.06,1288.64 1519.07,1288.77 1527.09,1288.90 1535.10,1289.03 1543.11,1289.16 1551.12,1289.29 1559.13,1289.42 1567.14,1289.55 1575.15,1289.67 1583.16,1289.80 1591.18,1289.93 1599.19,1290.05 1601.89,1290.09"/>
<polyline class="cv" stroke="#4DBEEE" stroke-dasharray="13.7 11.7" stroke-dashoffset="20.33" points="1601.89,1290.09 1607.20,1290.17 1615.21,1290.29 1623.22,1290.41 1631.23,1290.52 1639.24,1290.64 1647.25,1290.74 1655.27,1290.85 1663.28,1290.95 1671.29,1291.05 1679.30,1291.14 1687.31,1291.22 1695.32,1291.31 1703.33,1291.39 1711.34,1291.48 1719.35,1291.56 1727.37,1291.63 1735.38,1291.71 1743.39,1291.78 1751.40,1291.86 1759.41,1291.93 1767.42,1291.99 1775.43,1292.06 1783.44,1292.12 1791.46,1292.18 1799.47,1292.24 1807.48,1292.30 1815.49,1292.35 1823.50,1292.40"/>
<polyline class="cv" stroke="#7E2F8E" points="174.20,1047.90 180.30,1047.90 193.30,1015.00 200.50,997.90 201.71,995.14 202.86,992.36 203.97,989.57 205.02,986.77 206.03,983.95 206.99,981.12 207.91,978.28 208.79,975.43 209.64,972.57 210.44,969.70 211.22,966.81 211.96,963.92 212.67,961.03 213.35,958.12 214.01,955.21 214.64,952.29 215.25,949.37 215.85,946.44 216.42,943.50 216.99,940.56 217.53,937.62 218.07,934.67 218.60,931.72 219.12,928.77 219.64,925.82 220.15,922.86 220.66,919.91 221.17,916.95 221.68,913.99 222.19,911.04 222.70,908.08 223.22,905.12 223.73,902.17 224.26,899.22 224.79,896.26 225.32,893.31 225.87,890.36 226.43,887.42 226.99,884.47 227.57,881.53 228.16,878.59 228.77,875.66 229.39,872.73 230.03,869.80 230.68,866.88 231.35,863.96 232.04,861.05 232.75,858.15 233.49,855.25 234.24,852.36 235.02,849.47 235.83,846.60 236.66,843.73 237.53,840.87 238.42,838.02 239.34,835.18 240.30,832.35 241.29,829.53 242.32,826.72 243.38,823.92 244.48,821.13 245.62,818.36 246.80,815.60 258.90,808.10 268.00,815.80 269.17,818.59 270.30,821.38 271.40,824.18 272.47,826.99 273.50,829.81 274.51,832.64 275.49,835.47 276.43,838.31 277.35,841.16 278.25,844.01 279.11,846.87 279.95,849.74 280.77,852.61 281.56,855.49 282.33,858.38 283.08,861.27 283.80,864.16 284.51,867.07 285.19,869.97 285.86,872.88 286.51,875.80 287.14,878.72 287.75,881.64 288.35,884.57 288.93,887.50 289.50,890.44 290.06,893.37 290.60,896.31 291.13,899.26 291.65,902.21 292.16,905.15 292.66,908.11 293.16,911.06 293.64,914.01 294.12,916.97 294.59,919.93 295.06,922.89 295.52,925.85 295.98,928.81 296.43,931.77 296.89,934.73 297.34,937.69 297.79,940.65 298.24,943.61 298.70,946.57 299.15,949.53 299.61,952.49 300.07,955.45 300.53,958.41 300.99,961.37 301.46,964.32 301.92,967.28 302.39,970.24 302.86,973.19 303.33,976.14 303.81,979.10 304.29,982.05 304.77,985.00 305.25,987.96 305.74,990.91 306.23,993.86 306.72,996.81 307.22,999.76 307.72,1002.70 308.23,1005.65 308.73,1008.60 309.24,1011.55 309.76,1014.49 310.28,1017.44 310.80,1020.38 311.33,1023.32 311.86,1026.27 312.40,1029.21 312.95,1032.15 313.52,1035.08 314.10,1038.01 314.69,1040.94 315.31,1043.87 315.94,1046.79 316.60,1049.71 317.28,1052.62 317.99,1055.52 318.73,1058.42 319.50,1061.31 320.30,1064.20 329.10,1067.80 346.70,1036.40 356.20,1034.00 364.80,1046.60 366.05,1049.32 367.28,1052.05 368.48,1054.80 369.65,1057.56 370.81,1060.32 371.94,1063.10 373.06,1065.88 374.15,1068.68 375.24,1071.48 376.31,1074.29 377.36,1077.10 378.41,1079.92 379.45,1082.74 380.48,1085.57 381.50,1088.40 382.52,1091.23 383.53,1094.07 384.54,1096.91 385.56,1099.74 386.57,1102.58 387.59,1105.41 388.61,1108.25 389.64,1111.08 390.68,1113.91 391.73,1116.73 392.78,1119.55 393.85,1122.36 394.94,1125.17 396.04,1127.97 397.15,1130.77 398.29,1133.55 399.44,1136.33 400.62,1139.10 401.82,1141.86 403.05,1144.60 404.30,1147.34 405.58,1150.06 406.88,1152.77 408.22,1155.47 409.58,1158.15 410.98,1160.82 412.40,1163.47 413.86,1166.10 415.35,1168.72 416.87,1171.32 418.43,1173.90 420.01,1176.46 421.64,1179.00 423.30,1181.52 424.99,1184.02 426.72,1186.50 428.48,1188.96 430.27,1191.39 432.10,1193.79 433.96,1196.17 435.86,1198.53 437.79,1200.86 439.74,1203.16 441.74,1205.43 443.76,1207.68 445.81,1209.89 447.90,1212.08 450.01,1214.23 452.16,1216.35 454.34,1218.44 456.54,1220.49 458.78,1222.51 461.04,1224.50 463.34,1226.45 465.66,1228.36 468.01,1230.23 470.39,1232.07 472.79,1233.87 475.23,1235.63 477.69,1237.35 480.17,1239.02 482.69,1240.66 485.22,1242.26 487.79,1243.81 490.37,1245.32 492.98,1246.80 495.61,1248.23 498.26,1249.62 500.93,1250.97 503.62,1252.29 506.33,1253.56 509.05,1254.80 511.79,1255.99 514.54,1257.15 517.31,1258.27 520.10,1259.35 522.90,1260.39 525.71,1261.40 528.53,1262.38 531.37,1263.32 534.22,1264.23 537.09,1265.10 539.96,1265.95 542.84,1266.76 545.74,1267.55 548.65,1268.30 551.56,1269.03 554.49,1269.73 557.42,1270.40 560.36,1271.05 563.31,1271.67 566.27,1272.27 569.24,1272.85 572.21,1273.40 575.19,1273.93 578.17,1274.45 581.16,1274.94 584.16,1275.41 587.15,1275.86 590.16,1276.30 593.16,1276.72 596.17,1277.12 599.19,1277.51 602.20,1277.89 605.22,1278.25 608.24,1278.60 611.26,1278.93 614.28,1279.26 617.30,1279.57 620.32,1279.88 623.34,1280.18 626.36,1280.47 629.37,1280.75 632.39,1281.03 635.40,1281.30 638.41,1281.57 641.42,1281.83 644.42,1282.09 647.42,1282.35 650.41,1282.61 653.40,1282.87 656.38,1283.12 659.36,1283.38 662.33,1283.64 665.29,1283.91 668.25,1284.18 671.20,1284.45 674.14,1284.73 677.08,1285.01 680.00,1285.30 688.00,1285.80 695.99,1286.28 703.99,1286.74 711.99,1287.17 719.98,1287.57 727.98,1287.93 735.98,1288.28 743.97,1288.62 751.97,1288.94 759.97,1289.25 767.96,1289.53 775.96,1289.80 783.95,1290.04 791.95,1290.25 799.95,1290.45 807.94,1290.64 815.94,1290.82 823.94,1290.99 831.93,1291.15 839.93,1291.29 847.93,1291.41 855.92,1291.51 863.92,1291.60 871.92,1291.69 879.91,1291.76 887.91,1291.82 895.91,1291.88 903.90,1291.92 911.90,1291.96 919.90,1291.99 927.89,1292.03 935.89,1292.06 943.88,1292.08 951.88,1292.11 959.88,1292.13 967.87,1292.16 975.87,1292.18 983.87,1292.20 991.86,1292.22 999.86,1292.24 1007.86,1292.26 1015.85,1292.29 1023.85,1292.31 1031.85,1292.34 1039.84,1292.36 1047.84,1292.39 1055.84,1292.42 1063.83,1292.45 1071.83,1292.48 1079.83,1292.51 1087.82,1292.54 1095.82,1292.57 1103.81,1292.61 1111.81,1292.64 1119.81,1292.67 1127.80,1292.71 1135.80,1292.74 1143.80,1292.78 1151.79,1292.82 1159.79,1292.86 1167.79,1292.90 1175.78,1292.95 1183.78,1292.99 1191.78,1293.04 1199.77,1293.10 1207.77,1293.16 1215.77,1293.23 1223.76,1293.32 1231.76,1293.41 1239.76,1293.50 1247.75,1293.61 1255.75,1293.71 1263.74,1293.82 1271.74,1293.93 1279.74,1294.04 1287.73,1294.15 1295.73,1294.25 1303.73,1294.34 1311.72,1294.44 1319.72,1294.54 1327.72,1294.63 1335.71,1294.72 1343.71,1294.82 1351.71,1294.91 1359.70,1295.01 1367.70,1295.11 1375.70,1295.20 1383.69,1295.30 1391.69,1295.40 1399.69,1295.50 1407.68,1295.60 1415.68,1295.71 1423.67,1295.83 1431.67,1295.95 1439.67,1296.07 1447.66,1296.19 1455.66,1296.31 1463.66,1296.42 1471.65,1296.53 1479.65,1296.62 1487.65,1296.70 1495.64,1296.77 1503.64,1296.82 1511.64,1296.87 1519.63,1296.91 1527.63,1296.96 1535.63,1297.00 1543.62,1297.03 1551.62,1297.07 1559.62,1297.10 1567.61,1297.13 1575.61,1297.16 1583.60,1297.19 1591.60,1297.21 1599.60,1297.24 1607.59,1297.26 1615.59,1297.29 1623.59,1297.31 1631.58,1297.34 1639.58,1297.37 1647.58,1297.39 1655.57,1297.42 1663.57,1297.45 1671.57,1297.47 1679.56,1297.50 1687.56,1297.52 1695.56,1297.55 1703.55,1297.57 1711.55,1297.60 1719.55,1297.62 1727.54,1297.65 1735.54,1297.67 1743.53,1297.69 1751.53,1297.72 1759.53,1297.74 1767.52,1297.76 1775.52,1297.78 1783.52,1297.80 1791.51,1297.82 1799.51,1297.84 1807.51,1297.86 1815.50,1297.88 1823.50,1297.90"/>
<line x1="1030.0" y1="129.0" x2="1183.2" y2="129.0" stroke="#0072BD" stroke-width="14" shape-rendering="crispEdges"/>
<text class="lg" x="1194.6" y="154.2">Total scattering</text>
<line x1="1030.0" y1="212.0" x2="1183.2" y2="212.0" stroke="#4DBEEE" stroke-width="14" shape-rendering="crispEdges"/>
<text class="lg" x="1194.6" y="237.2">Forward scattering</text>
<line x1="1030.0" y1="295.0" x2="1172.0" y2="295.0" stroke="#4DBEEE" stroke-width="14" stroke-dasharray="13.7 11.7" shape-rendering="crispEdges"/>
<text class="lg" x="1194.6" y="320.2">Backward scattering</text>
<line x1="1030.0" y1="378.0" x2="1183.2" y2="378.0" stroke="#7E2F8E" stroke-width="14" shape-rendering="crispEdges"/>
<text class="lg" x="1194.6" y="403.2">Absorption</text>
</svg></body></html>
